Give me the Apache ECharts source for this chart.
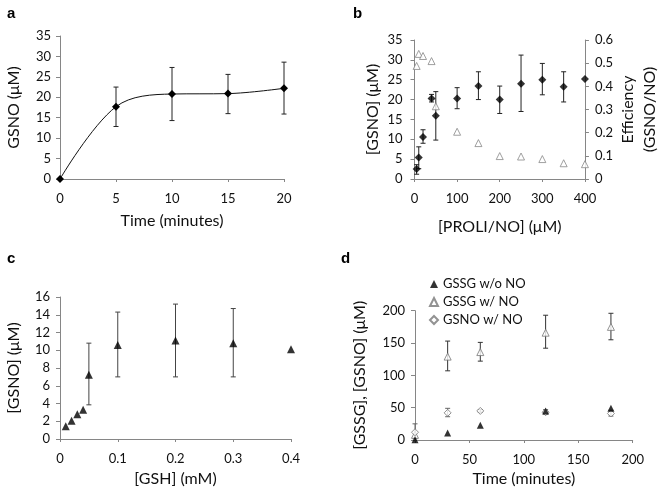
<!DOCTYPE html>
<html><head><meta charset="utf-8">
<script src="https://cdn.jsdelivr.net/npm/echarts@6/dist/echarts.min.js"></script>
<style>html,body{margin:0;padding:0;background:#fff}#c{width:662px;height:496px}</style>
</head><body><div id="c"></div>
<script>
// Panel a
const aTime = [0, 5, 10, 15, 20];
const aGsno = [0, 17.7, 20.8, 20.9, 22.2];
const aLow = [null, 12.85, 14.3, 16.0, 15.9];
const aHigh = [null, 22.5, 27.3, 25.6, 28.6];
// Panel b
const bProli = [5, 10, 20, 40, 50, 100, 150, 200, 250, 300, 350, 400];
const bGsno = [2.5, 5.4, 10.6, 20.3, 15.9, 20.3, 23.4, 20.0, 24.0, 25.0, 23.2, 25.2];
const bLow = [1.2, 2.6, 9.0, 19.4, 9.8, 17.7, 20.0, 16.5, 17.0, 21.2, 19.4, null];
const bHigh = [3.6, 8.1, 12.4, 21.3, 22.0, 23.0, 27.0, 23.4, 31.2, 29.1, 27.0, null];
const bEff = [0.488, 0.54, 0.531, 0.509, 0.314, 0.204, 0.155, 0.099, 0.097, 0.086, 0.068, 0.064];
// Panel c
const cGsh = [0.01, 0.02, 0.03, 0.04, 0.05, 0.1, 0.2, 0.3, 0.4];
const cGsno = [1.45, 2.05, 2.8, 3.3, 7.25, 10.6, 11.1, 10.8, 10.1];
const cLow = [null, null, null, null, 3.85, 7.0, 7.0, 7.0, null];
const cHigh = [null, null, null, null, 10.8, 14.3, 15.2, 14.7, null];
// Panel d
const dTime = [0, 30, 60, 120, 180];
const dGssgNoNO = [0.5, 11, 23, 45, 49];
const dGssgNO = [8, 129, 136, 166, 175];
const dGssgNOLow = [null, 107, 122, 142, 155];
const dGssgNOHigh = [null, 153, 151, 193, 196];
const dGsnoNO = [12, 42, 45, 43, 41];
const dGsnoNOLow = [2, 36, 43, 40, 37];
const dGsnoNOHigh = [25, 49, 47, 47, 46];
const dNames = ['GSSG w/o NO', 'GSSG w/ NO', 'GSNO w/ NO'];

const FONT = 'Lato';
const AX = '#868686';

function pairs(xs, ys) { return xs.map((x, i) => [x, ys[i]]); }

function errBars(xi, yi, xs, lo, hi, color) {
  const data = [];
  xs.forEach((x, i) => { if (lo[i] != null && hi[i] != null) data.push([x, lo[i], hi[i]]); });
  return {
    type: 'custom', xAxisIndex: xi, yAxisIndex: yi, data: data, z: 1, silent: true,
    encode: { x: 0, y: [1, 2] },
    renderItem: function (params, api) {
      const x = api.value(0);
      const p1 = api.coord([x, api.value(1)]);
      const p2 = api.coord([x, api.value(2)]);
      const w = 2.5;
      const st = { stroke: color, lineWidth: 1 };
      return { type: 'group', children: [
        { type: 'line', shape: { x1: p1[0], y1: p1[1], x2: p2[0], y2: p2[1] }, style: st },
        { type: 'line', shape: { x1: p1[0] - w, y1: p1[1], x2: p1[0] + w, y2: p1[1] }, style: st },
        { type: 'line', shape: { x1: p2[0] - w, y1: p2[1], x2: p2[0] + w, y2: p2[1] }, style: st }
      ] };
    }
  };
}

function xAx(gi, min, max, interval, name, gap, fmt) {
  return {
    type: 'value', gridIndex: gi, min: min, max: max, interval: interval,
    name: name, nameLocation: 'middle', nameGap: gap,
    nameTextStyle: { fontFamily: FONT, fontSize: 16, color: '#111' },
    axisLine: { show: true, lineStyle: { color: AX } },
    axisTick: { show: true, length: 3, lineStyle: { color: AX } },
    axisLabel: { fontFamily: FONT, fontSize: 13, color: '#111', margin: 13, formatter: fmt },
    splitLine: { show: false }
  };
}
function yAx(gi, min, max, interval, name, gap, pos, margin) {
  return {
    type: 'value', gridIndex: gi, min: min, max: max, interval: interval, position: pos || 'left',
    name: name, nameLocation: 'middle', nameGap: gap,
    nameTextStyle: { fontFamily: FONT, fontSize: 16, color: '#111', lineHeight: 22 },
    axisLine: { show: true, onZero: false, lineStyle: { color: AX } },
    axisTick: { show: true, length: 4, lineStyle: { color: AX } },
    axisLabel: { fontFamily: FONT, fontSize: 13, color: '#111', margin: margin || 9 },
    splitLine: { show: false }
  };
}

const chart = echarts.init(document.getElementById('c'), null, { renderer: 'canvas' });
chart.setOption({
  animation: false,
  backgroundColor: '#fff',
  grid: [
    { left: 60, right: 378, top: 36, bottom: 317 },
    { left: 414.5, right: 74.3, top: 40, bottom: 317 },
    { left: 60, right: 371, top: 297, bottom: 57 },
    { left: 415, right: 29.3, top: 310.7, bottom: 56 }
  ],
  xAxis: [
    xAx(0, 0, 20, 5, 'Time (minutes)', 34),
    xAx(1, 0, 400, 100, '[PROLI/NO] (μM)', 40),
    xAx(2, 0, 0.4, 0.1, '[GSH] (mM)', 32, v => v === 0 ? '0' : String(+v.toFixed(1))),
    xAx(3, 0, 200, 50, 'Time (minutes)', 31)
  ],
  yAxis: [
    yAx(0, 0, 35, 5, 'GSNO (μM)', 35),
    yAx(1, 0, 35, 5, '[GSNO] (μM)', 25, 'left', 12),
    Object.assign(yAx(1, 0, 0.6, 0.1, 'Efficiency\n(GSNO/NO)', 29, 'right', 10), { nameRotate: 90 }),
    yAx(2, 0, 16, 2, '[GSNO] (μM)', 35, 'left', 10),
    yAx(3, 0, 200, 50, '[GSSG], [GSNO] (μM)', 44, 'left', 10)
  ],
  legend: {
    data: dNames, orient: 'vertical', left: 429, top: 277.5, itemGap: 5, padding: 0,
    itemWidth: 8, itemHeight: 8,
    textStyle: { fontFamily: FONT, fontSize: 13, color: '#111' }
  },
  graphic: [
    { type: 'text', left: 7, top: 6, style: { text: 'a', font: 'bold 15px Liberation Sans', fill: '#000' } },
    { type: 'text', left: 353, top: 6, style: { text: 'b', font: 'bold 15px Liberation Sans', fill: '#000' } },
    { type: 'text', left: 7, top: 251, style: { text: 'c', font: 'bold 15px Liberation Sans', fill: '#000' } },
    { type: 'text', left: 341, top: 251, style: { text: 'd', font: 'bold 15px Liberation Sans', fill: '#000' } }
  ],
  series: [
    // a
    errBars(0, 0, aTime, aLow, aHigh, '#222'),
    { type: 'line', xAxisIndex: 0, yAxisIndex: 0, data: pairs(aTime, aGsno), smooth: 0.35,
      symbol: 'diamond', symbolSize: 8, lineStyle: { color: '#111', width: 1 },
      itemStyle: { color: '#000' }, z: 3 },
    // b
    errBars(1, 1, bProli, bLow, bHigh, '#222'),
    { type: 'scatter', xAxisIndex: 1, yAxisIndex: 2, data: pairs(bProli, bEff),
      symbol: 'triangle', symbolSize: 7,
      itemStyle: { color: '#fff', borderColor: '#888', borderWidth: 1 }, z: 2 },
    { type: 'scatter', xAxisIndex: 1, yAxisIndex: 1, data: pairs(bProli, bGsno),
      symbol: 'diamond', symbolSize: 8, itemStyle: { color: '#000' }, z: 3 },
    // c
    errBars(2, 3, cGsh, cLow, cHigh, '#444'),
    { type: 'scatter', xAxisIndex: 2, yAxisIndex: 3, data: pairs(cGsh, cGsno),
      symbol: 'triangle', symbolSize: 8, itemStyle: { color: '#000' }, z: 3 },
    // d
    errBars(3, 4, dTime, dGssgNOLow, dGssgNOHigh, '#333'),
    errBars(3, 4, dTime, dGsnoNOLow, dGsnoNOHigh, '#666'),
    { name: dNames[0], type: 'scatter', xAxisIndex: 3, yAxisIndex: 4, data: pairs(dTime, dGssgNoNO),
      symbol: 'triangle', symbolSize: 7, itemStyle: { color: '#000' }, z: 4 },
    { name: dNames[1], type: 'scatter', xAxisIndex: 3, yAxisIndex: 4, data: pairs(dTime, dGssgNO),
      symbol: 'triangle', symbolSize: 7,
      itemStyle: { color: '#fff', borderColor: '#777', borderWidth: 1 }, z: 3 },
    { name: dNames[2], type: 'scatter', xAxisIndex: 3, yAxisIndex: 4, data: pairs(dTime, dGsnoNO),
      symbol: 'diamond', symbolSize: 7,
      itemStyle: { color: '#fff', borderColor: '#777', borderWidth: 1 }, z: 3 }
  ]
});
</script></body></html>
